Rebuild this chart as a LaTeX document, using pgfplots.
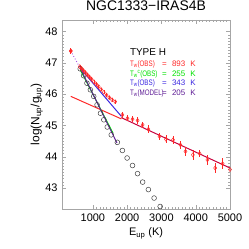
\documentclass[border=0pt]{standalone}
\usepackage{fontspec}
\setmainfont{Liberation Sans}
\usepackage{graphicx}
\usepackage{pgfplots}
\pgfplotsset{compat=1.18}
\definecolor{ired}{RGB}{255,40,40}
\definecolor{igreen}{RGB}{0,225,0}
\definecolor{iblue}{RGB}{60,40,225}
\definecolor{ipurple}{RGB}{95,30,150}
\definecolor{icrimson}{RGB}{200,0,60}
\definecolor{iviolet}{RGB}{170,80,230}
\newcommand{\tline}[2]{\makebox[32bp][l]{\scalebox{0.78}[1]{#1}}\makebox[10bp][l]{=}#2\hspace{5bp}K}
\begin{document}
\begin{tikzpicture}
\useasboundingbox (0,0) rectangle (249bp,249bp);
\begin{axis}[
  at={(62bp,40bp)}, anchor=south west,
  width=168bp, height=189bp, scale only axis,
  xmin=100, xmax=5000, ymin=42.33, ymax=48.37,
  xtick={1000,2000,3000,4000,5000}, ytick={43,44,45,46,47,48},
  minor x tick num=9, minor y tick num=9,
  tick align=inside, major tick length=4bp, minor tick length=2bp,
  axis line style={gray!70}, every tick/.style={gray!70},
  scaled x ticks=false,
  /pgf/number format/1000 sep={},
  /pgf/number format/assume math mode=true,
  ticklabel style={font=\fontsize{11}{12}\selectfont, black},
  xticklabel style={yshift=-1bp},
  yticklabel style={xshift=-1bp},
  xlabel={E\textsubscript{up} (K)},
  ylabel={log(N\textsubscript{up}/g\textsubscript{up})},
  xlabel style={font=\fontsize{11}{12}\selectfont, at={(axis description cs:0.5,-0.13)}, anchor=center},
  ylabel style={font=\fontsize{12}{13}\selectfont, at={(axis description cs:-0.15,0.5)}, anchor=center},
  title={NGC1333−IRAS4B},
  title style={font=\fontsize{14}{15}\selectfont, at={(axis description cs:0.5,1)}, anchor=base, yshift=4bp},
  clip=true,
]
% fit lines
\addplot[ired, line width=1pt] coordinates {(356,45.93) (1830,45.21)};
\addplot[icrimson, line width=1pt] coordinates {(1830,45.25) (5000,43.64)};
\addplot[iviolet, dotted, line width=0.9pt] coordinates {(356,47.38) (631,46.83)};
\addplot[igreen, line width=1pt] coordinates {(631,46.78) (1586,44.76)};
\addplot[iblue, line width=1pt] coordinates {(631,46.83) (1832,45.29)};
\addplot[ipurple, line width=1pt] coordinates {(631,46.83) (1704,44.44)};
% model (open circles)
\addplot[only marks, mark=o, mark size=2.4bp, black!75, mark options={line width=0.5pt}] coordinates {
(631,46.81) (730,46.59) (828,46.35) (927,46.14) (1025,45.93) (1123,45.66)
(1222,45.39) (1320,45.18) (1419,44.95) (1537,44.70) (1714,44.46) (1861,44.20)
(1999,43.96) (2157,43.72) (2304,43.46) (2452,43.19) (2619,42.95) (2786,42.68) (2963,42.41)};
% observed, first point
\addplot[only marks, mark=diamond*, mark size=2.2bp, ired,
  error bars/.cd, y dir=both, y explicit, error bar style={line width=0.6pt}, error mark=none]
  coordinates {(356,47.38) +- (0,0.1)};
% observed
\addplot[only marks, mark=diamond, mark size=2bp, ired, mark options={line width=0.5pt},
  error bars/.cd, y dir=both, y explicit, error bar style={line width=0.5pt}, error mark=none]
  coordinates {
(620,46.88) +- (0,0.06) (670,46.82) +- (0,0.06) (720,46.76) +- (0,0.06) (780,46.69) +- (0,0.06)
(840,46.62) +- (0,0.06) (900,46.55) +- (0,0.06) (960,46.48) +- (0,0.06) (1030,46.40) +- (0,0.06)
(1100,46.32) +- (0,0.06) (1170,46.24) +- (0,0.06) (1240,46.15) +- (0,0.06) (1320,46.06) +- (0,0.06)
(1400,45.97) +- (0,0.06) (1480,45.89) +- (0,0.06) (1560,45.82) +- (0,0.06) (1650,45.76) +- (0,0.06)
(1861,45.34) +- (0,0.1) (2009,45.23) +- (0,0.1) (2157,45.20) +- (0,0.1) (2304,45.16) +- (0,0.1)
(2452,45.02) +- (0,0.1) (2619,44.88) +- (0,0.12) (2944,44.65) +- (0,0.12) (3131,44.56) +- (0,0.12)
(3338,44.54) +- (0,0.12) (3554,44.38) +- (0,0.12) (3701,44.17) +- (0,0.15) (3918,44.06) +- (0,0.15)
(4115,44.10) +- (0,0.12) (4341,43.90) +- (0,0.15) (4567,43.64) +- (0,0.15) (4784,43.78) +- (0,0.18)
(5000,43.59) +- (0,0.2)};
% text block
\node[anchor=west, font=\fontsize{10}{11}\selectfont, inner sep=0pt] at (axis cs:2078,47.33) {TYPE H};
\node[anchor=west, font=\fontsize{8}{9}\selectfont, text=ired, inner sep=0pt] at (axis cs:2078,46.94)
  {\tline{T\textsubscript{w}(OBS)}{893}};
\node[anchor=west, font=\fontsize{8}{9}\selectfont, text=igreen, inner sep=0pt] at (axis cs:2078,46.65)
  {\tline{T\textsubscript{w}\textsuperscript{c}(OBS)}{255}};
\node[anchor=west, font=\fontsize{8}{9}\selectfont, text=iblue, inner sep=0pt] at (axis cs:2078,46.35)
  {\tline{T\textsubscript{w}(OBS)}{343}};
\node[anchor=west, font=\fontsize{8}{9}\selectfont, text=ipurple, inner sep=0pt] at (axis cs:2078,46.03)
  {\tline{T\textsubscript{w}(MODEL)}{205}};
\end{axis}
\end{tikzpicture}
\end{document}
